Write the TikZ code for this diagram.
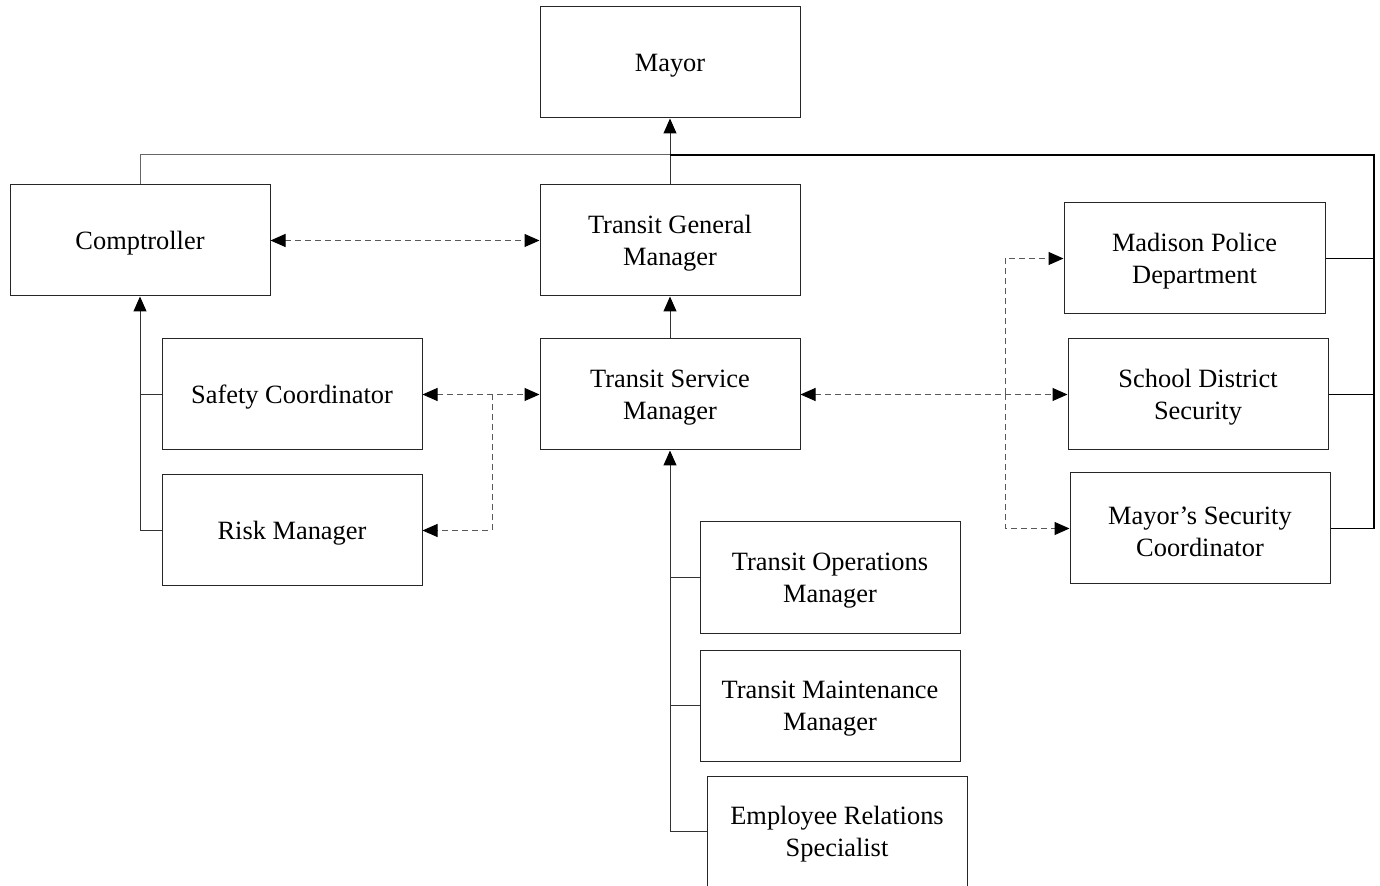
\documentclass[tikz,border=0pt]{standalone}
\usepackage{fontspec}
\setmainfont{Liberation Serif}
\usetikzlibrary{arrows.meta}
\begin{document}
\begin{tikzpicture}[x=0.5pt,y=-0.5pt,
  box/.style={draw=black!85,line width=0.5pt,rectangle,inner sep=0pt,
    minimum width=130pt,minimum height=55.5pt},
  txt/.style={align=center,inner sep=0pt,yshift=-1.5pt,
    font=\fontsize{13.2}{16}\selectfont},
  solidline/.style={draw=black!80,line width=0.5pt},
  rel/.style={draw=black!65,line width=0.5pt,dash pattern=on 3pt off 2pt},
  tip/.style={-{Triangle[length=7.5pt,width=6.5pt,color=black]}},
  tips/.style={{Triangle[length=7.5pt,width=6.5pt,color=black]}-{Triangle[length=7.5pt,width=6.5pt,color=black]}}]
\useasboundingbox (0,0) rectangle (1380,886);
\clip (0,0) rectangle (1380,886);

% boxes, each with its title set at the centre
\node[box,label={[txt]center:Mayor}] (mayor) at (670,62.5) {};
\node[box,label={[txt]center:Comptroller}] (comp) at (140,240.5) {};
\node[box,label={[txt]center:Transit General\\Manager}] (tgm) at (670,240.5) {};
\node[box,label={[txt]center:Transit Service\\Manager}] (tsm) at (670,394.5) {};
\node[box,label={[txt]center:Safety Coordinator}] (safety) at (292,394.5) {};
\node[box,label={[txt]center:Risk Manager}] (risk) at (292,530.5) {};
\node[box,minimum width=130.5pt,label={[txt]center:Madison Police\\Department}] (police) at (1194.5,258.5) {};
\node[box,label={[txt]center:School District\\Security}] (school) at (1198,394.5) {};
\node[box,label={[txt]center:Mayor’s Security\\Coordinator}] (msec) at (1200,528.5) {};
\node[box,label={[txt]center:Transit Operations\\Manager}] (ops) at (830,577.5) {};
\node[box,label={[txt]center:Transit Maintenance\\Manager}] (maint) at (830,705.5) {};
\node[box,label={[txt]center:Employee Relations\\Specialist}] (emp) at (837,831.5) {};

% bus coordinates
\coordinate (topjoin) at (670,155);
\coordinate (rbus) at (1374,155);
\coordinate (lbus) at (492,394.5);
\coordinate (vbus) at (1005,394.5);

% reporting lines to the Mayor
\draw[solidline,tip] (tgm.north) -- (mayor.south);
\draw[solidline,draw=black!60] (comp.north) |- (topjoin);
\draw[solidline,draw=black,line width=0.7pt] (topjoin) -- (rbus) |- (msec.east);
\draw[solidline,draw=black] (police.east) -- (police.east -| rbus);
\draw[solidline,draw=black] (school.east) -- (school.east -| rbus);

% Transit Service Manager chain
\draw[solidline,tip] (tsm.north) -- (tgm.south);
\draw[solidline,tip] (emp.west) -| (tsm.south);
\draw[solidline] (ops.west) -- (ops.west -| tsm.south);
\draw[solidline] (maint.west) -- (maint.west -| tsm.south);

% Comptroller chain
\draw[solidline,tip] (risk.west) -| (comp.south);
\draw[solidline] (safety.west) -- (safety.west -| comp.south);

% coordination (dashed)
\draw[rel,tips] (comp.east) -- (tgm.west);
\draw[rel,tips] (safety.east) -- (tsm.west);
\draw[rel,tip] (lbus) |- (risk.east);
\draw[rel,tips] (tsm.east) -- (school.west);
\draw[rel,tip] (vbus) |- (police.west);
\draw[rel,tip] (vbus) |- (msec.west);
\end{tikzpicture}
\end{document}
